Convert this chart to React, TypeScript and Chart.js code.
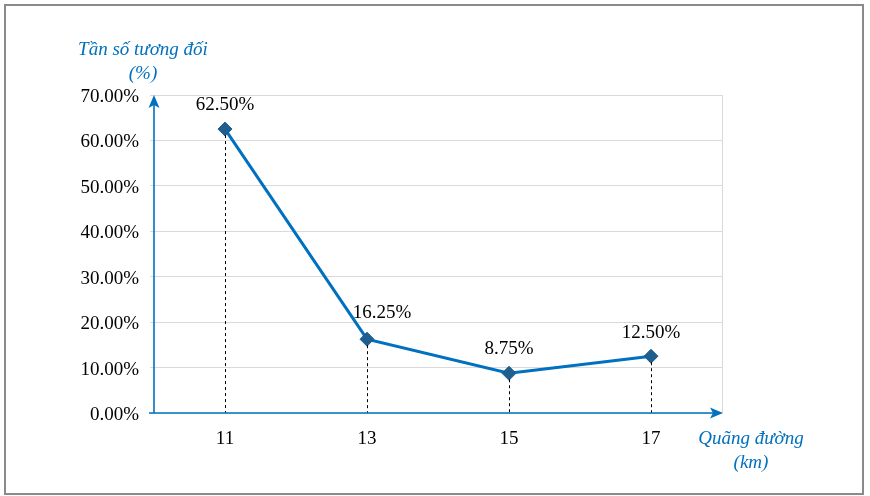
import React, { useEffect, useRef } from "react";
import { Chart, registerables } from "chart.js";

Chart.register(...registerables);

const categories = ["11", "13", "15", "17"];
const relFreq = [62.5, 16.25, 8.75, 12.5];
const yMax = 70;
const yStep = 10;
const yTitle = ["Tần số tương đối", "(%)"];
const xTitle = ["Quãng đường", "(km)"];

const BLUE = "#0070C0";
const SERIF = "'Liberation Serif', 'Times New Roman', serif";

const overlay = {
  id: "overlay",
  beforeDraw(chart: any) {
    const ctx = chart.ctx;
    ctx.save();
    ctx.fillStyle = "#fff";
    ctx.fillRect(0, 0, chart.width, chart.height);
    ctx.strokeStyle = "#8a8a8a";
    ctx.lineWidth = 2;
    ctx.strokeRect(5, 5, 858, 489);
    ctx.restore();
  },
  afterDatasetsDraw(chart: any) {
    const ctx = chart.ctx;
    const area = chart.chartArea;
    const meta = chart.getDatasetMeta(0);
    ctx.save();
    ctx.strokeStyle = "#d9d9d9";
    ctx.lineWidth = 1;
    ctx.beginPath();
    ctx.moveTo(Math.round(area.right) + 0.5, area.top);
    ctx.lineTo(Math.round(area.right) + 0.5, area.bottom);
    ctx.stroke();
    ctx.strokeStyle = "#000";
    ctx.setLineDash([3, 3]);
    ctx.lineWidth = 1;
    meta.data.forEach((p: any) => {
      const x = Math.round(p.x) + 0.5;
      ctx.beginPath();
      ctx.moveTo(x, p.y + 6);
      ctx.lineTo(x, area.bottom);
      ctx.stroke();
    });
    ctx.setLineDash([]);
    ctx.strokeStyle = BLUE;
    ctx.fillStyle = BLUE;
    ctx.lineWidth = 1.6;
    const ax = area.left;
    const ay = area.bottom;
    ctx.beginPath();
    ctx.moveTo(ax, ay);
    ctx.lineTo(ax, area.top + 6);
    ctx.stroke();
    ctx.beginPath();
    ctx.moveTo(ax - 5, ay);
    ctx.lineTo(area.right - 6, ay);
    ctx.stroke();
    const ty = area.top;
    ctx.beginPath();
    ctx.moveTo(ax, ty);
    ctx.lineTo(ax + 5.5, ty + 13);
    ctx.lineTo(ax, ty + 10);
    ctx.lineTo(ax - 5.5, ty + 13);
    ctx.closePath();
    ctx.fill();
    const tx = area.right + 1;
    ctx.beginPath();
    ctx.moveTo(tx, ay);
    ctx.lineTo(tx - 13, ay - 5.5);
    ctx.lineTo(tx - 10, ay);
    ctx.lineTo(tx - 13, ay + 5.5);
    ctx.closePath();
    ctx.fill();
    ctx.restore();
  },
  afterDraw(chart: any) {
    const ctx = chart.ctx;
    const meta = chart.getDatasetMeta(0);
    const data = chart.data.datasets[0].data as number[];
    const dx = [0, 15, 0, 0];
    const dy = [-24, -26, -24, -23];
    ctx.save();
    ctx.fillStyle = "#000";
    ctx.font = `19px ${SERIF}`;
    ctx.textAlign = "center";
    ctx.textBaseline = "middle";
    meta.data.forEach((p: any, i: number) => {
      ctx.fillText(data[i].toFixed(2) + "%", p.x + dx[i], p.y + dy[i]);
    });
    ctx.fillStyle = BLUE;
    ctx.font = `italic 19px ${SERIF}`;
    ctx.fillText(yTitle[0], 143, 50);
    ctx.fillText(yTitle[1], 143, 74);
    ctx.fillText(xTitle[0], 751, 439);
    ctx.fillText(xTitle[1], 751, 463);
    ctx.restore();
  },
};

export default function App() {
  const ref = useRef<HTMLCanvasElement | null>(null);
  useEffect(() => {
    document.body.style.margin = "0";
    const chart = new Chart(ref.current as HTMLCanvasElement, {
      type: "line",
      data: {
        labels: categories,
        datasets: [
          {
            data: relFreq,
            borderColor: BLUE,
            borderWidth: 3,
            pointStyle: "rectRot",
            pointRadius: 7,
            pointBackgroundColor: "#1F5F8F",
            pointBorderColor: "#1F5F8F",
            pointBorderWidth: 1,
            tension: 0,
          },
        ],
      },
      options: {
        responsive: false,
        animation: false,
        layout: { padding: { left: 0, right: 148, top: 95, bottom: 0 } },
        plugins: { legend: { display: false }, tooltip: { enabled: false } },
        scales: {
          x: {
            offset: true,
            grid: { display: false, drawTicks: false },
            border: { display: false },
            ticks: {
              color: "#000",
              font: { family: SERIF, size: 19 },
              padding: 15,
            },
            afterFit(scale: any) {
              scale.height = 83;
            },
          },
          y: {
            min: 0,
            max: yMax,
            border: { display: false },
            grid: { color: "#d9d9d9", lineWidth: 1, tickLength: 4 },
            ticks: {
              stepSize: yStep,
              color: "#000",
              font: { family: SERIF, size: 19 },
              padding: 11,
              labelOffset: 2,
              callback: (v: any) => Number(v).toFixed(2) + "%",
            },
            afterFit(scale: any) {
              scale.width = 154;
            },
          },
        },
      },
      plugins: [overlay],
    });
    return () => chart.destroy();
  }, []);
  return (
    <div style={{ width: 870, height: 496 }}>
      <canvas ref={ref} width={870} height={496} />
    </div>
  );
}
